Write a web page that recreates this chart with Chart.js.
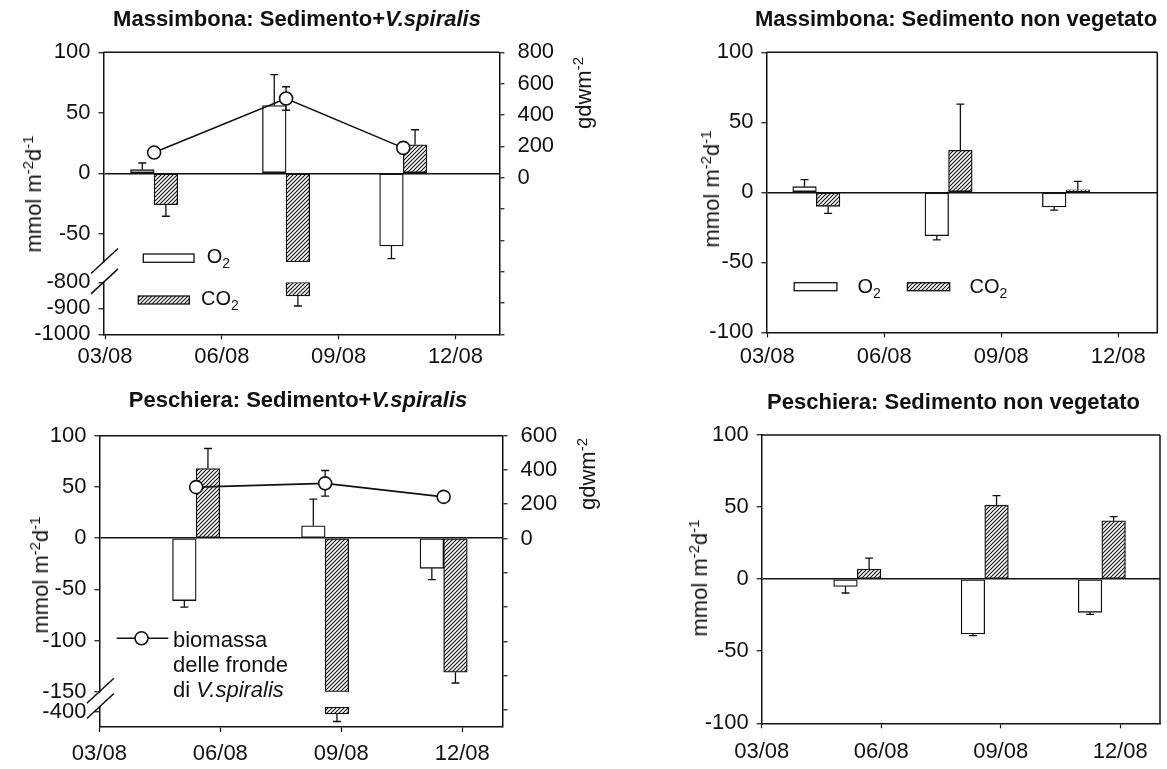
<!DOCTYPE html>
<html lang="it">
<head>
<meta charset="utf-8">
<title>Flussi di O2 e CO2 - Massimbona e Peschiera</title>
<script src="https://cdn.jsdelivr.net/npm/chart.js@4.4.1/dist/chart.umd.min.js"></script>
<style>
  html, body { margin: 0; padding: 0; background: #fff; }
  body { font-family: "Liberation Sans", Arial, "DejaVu Sans", sans-serif; color: #111; }
  #fig { position: relative; width: 1167px; height: 769px; overflow: hidden; }
  #fig canvas { position: absolute; }
  .t { position: absolute; white-space: nowrap; font-size: 22px; line-height: 22px; }
  .ttl { font-weight: bold; transform: translateX(-50%); }
  .vt { transform: translate(-50%, -50%) rotate(-90deg); }
  .lg { font-size: 20px; line-height: 20px; }
  .t sup { font-size: 15px; position: relative; top: -8px; vertical-align: baseline; line-height: 0; }
  .t sub { font-size: 14px; position: relative; top: 5px; vertical-align: baseline; line-height: 0; }
</style>
</head>
<body>
<div id="fig">
  <canvas id="c1" width="620" height="384" style="left:0;top:0"></canvas>
  <canvas id="c2" width="547" height="384" style="left:620px;top:0"></canvas>
  <canvas id="c3" width="620" height="385" style="left:0;top:384px"></canvas>
  <canvas id="c4" width="547" height="385" style="left:620px;top:384px"></canvas>

  <!-- titoli dei pannelli -->
  <div class="t ttl" style="left:297px;top:8.4px">Massimbona: Sedimento+<i>V.spiralis</i></div>
  <div class="t ttl" style="left:956px;top:8.4px">Massimbona: Sedimento non vegetato</div>
  <div class="t ttl" style="left:298px;top:389.4px">Peschiera: Sedimento+<i>V.spiralis</i></div>
  <div class="t ttl" style="left:953.5px;top:391.4px">Peschiera: Sedimento non vegetato</div>

  <!-- titoli degli assi -->
  <div class="t vt" style="left:34.4px;top:193.5px">mmol m<sup>-2</sup>d<sup>-1</sup></div>
  <div class="t vt" style="left:584.4px;top:93px">gdwm<sup>-2</sup></div>
  <div class="t vt" style="left:712.4px;top:189px">mmol m<sup>-2</sup>d<sup>-1</sup></div>
  <div class="t vt" style="left:41.4px;top:575px">mmol m<sup>-2</sup>d<sup>-1</sup></div>
  <div class="t vt" style="left:588.4px;top:474px">gdwm<sup>-2</sup></div>
  <div class="t vt" style="left:700.4px;top:577.5px">mmol m<sup>-2</sup>d<sup>-1</sup></div>

  <!-- testi delle legende -->
  <div class="t lg" style="left:206.7px;top:246.4px">O<sub>2</sub></div>
  <div class="t lg" style="left:201px;top:288.1px">CO<sub>2</sub></div>
  <div class="t lg" style="left:857.5px;top:276.4px">O<sub>2</sub></div>
  <div class="t lg" style="left:969.6px;top:276.4px">CO<sub>2</sub></div>
  <div class="t" style="left:173px;top:626.6px;line-height:25px">biomassa<br>delle fronde<br>di <i>V.spiralis</i></div>
</div>

<script>
// giorni di campionamento (agosto, con frazione del giorno)
const giorniM = [4.26, 7.65, 10.66];
const giorniP = [5.4, 8.6, 11.54];

// tick dell'asse x
const tickGiorni = [3, 6, 9, 12];
const tickDate = ['03/08', '06/08', '09/08', '12/08'];

// Massimbona: Sedimento + V.spiralis (mmol m-2 d-1)
const o2MVeg = [3, 56, -60];
const o2MVegErr = [5.5, 25.5, 10.5];
const co2MVeg = [-26, -852, 23.5];
const co2MVegErr = [9.5, 39, 12.5];
// biomassa delle fronde (gdw m-2)
const bioM = [160, 505, 190];
const bioMErr = [20, 75, 37];

// Massimbona: Sedimento non vegetato
const o2MNon = [4, -31, -10.5];
const o2MNonErr = [5, 3, 2.2];
const co2MNon = [-10, 30, 1.8];
const co2MNonErr = [5, 33, 6];

// Peschiera: Sedimento + V.spiralis
const o2PVeg = [-61, 12, -29.5];
const o2PVegErr = [6.5, 26, 11];
const co2PVeg = [68, -402, -131];
const co2PVegErr = [19.5, 7.5, 10.5];
const bioP = [300, 322, 243];
const bioPErr = [15, 75, 15];

// Peschiera: Sedimento non vegetato
const o2PNon = [-5, -38, -23];
const o2PNonErr = [4.6, 1.2, 1.4];
const co2PNon = [7, 51.3, 40.5];
const co2PNonErr = [7.6, 6.6, 2.9];

// tick degli assi y
const tickY = [100, 50, 0, -50, -100];
const tickMUp = [100, 50, 0, -50];
const tickMLow = [-800, -900, -1000];
const tickBioM = [800, 600, 400, 200, 0, -200, -400, -600, -800, -1000];
const tickPUp = [100, 50, 0, -50, -100, -150];
const tickPLow = [-400];
const tickBioP = [600, 400, 200, 0, -200, -400, -600, -800, -1000];

const INK = '#111';
const BAR_W = 23.6;

Chart.defaults.font.family = '"Liberation Sans", Arial, "DejaVu Sans", sans-serif';
Chart.defaults.font.size = 22;
Chart.defaults.color = INK;

// tratteggio diagonale per le barre CO2
function makeHatch() {
    const c = document.createElement('canvas');
    c.width = 4; c.height = 4;
    const g = c.getContext('2d');
    g.fillStyle = '#fff';
    g.fillRect(0, 0, 4, 4);
    g.strokeStyle = INK;
    g.lineWidth = 1.1;
    g.beginPath();
    g.moveTo(0, 4); g.lineTo(4, 0);
    g.moveTo(-1, 1); g.lineTo(1, -1);
    g.moveTo(3, 5); g.lineTo(5, 3);
    g.stroke();
    return g.createPattern(c, 'repeat');
}

// barre d'errore: per le barre solo verso l'esterno, per i punti in entrambe le direzioni
function drawErrors(chart, index) {
    const ds = chart.data.datasets[index];
    if (!ds.errors) return;
    const meta = chart.getDatasetMeta(index);
    const yScale = chart.scales[meta.yAxisID];
    const ctx = chart.ctx;
    ctx.save();
    ctx.strokeStyle = INK;
    ctx.lineWidth = 1.3;
    ds.data.forEach((d, i) => {
        const err = ds.errors[i];
        const el = meta.data[i];
        if (!err || d.y === null || !el) return;
        const v = Array.isArray(d.y) ? d.y[1] : d.y;
        const y0 = yScale.getPixelForValue(v);
        const ends = ds.type === 'line' ? [v + err, v - err] : [v + Math.sign(v) * err];
        ends.forEach(e => {
            const y1 = yScale.getPixelForValue(e);
            ctx.beginPath();
            ctx.moveTo(el.x, y0); ctx.lineTo(el.x, y1);
            ctx.moveTo(el.x - 4, y1); ctx.lineTo(el.x + 4, y1);
            ctx.stroke();
        });
    });
    ctx.restore();
}

const errorBars = {
    id: 'errorBars',
    afterDatasetDraw(chart, args) { if (args.meta.type === 'bar') drawErrors(chart, args.index); },
    beforeDatasetDraw(chart, args) { if (args.meta.type === 'line') drawErrors(chart, args.index); }
};

// segni di interruzione "//" sull'asse spezzato
const axisBreak = {
    id: 'axisBreak',
    afterDraw(chart) {
        const up = chart.scales.y, low = chart.scales.yb;
        if (!low) return;
        const x = up.right, ctx = chart.ctx;
        ctx.save();
        ctx.strokeStyle = INK;
        ctx.lineWidth = 1.5;
        [up.bottom, low.top].forEach(y => {
            ctx.beginPath();
            ctx.moveTo(x - 12.5, y + 11.5);
            ctx.lineTo(x + 14.5, y - 13.5);
            ctx.stroke();
        });
        ctx.restore();
    }
};

function framePlugin(withRight) {
    return {
        id: 'frame',
        afterDraw(chart) {
            const { left, right, top, bottom } = chart.chartArea;
            const ctx = chart.ctx;
            ctx.save();
            ctx.strokeStyle = INK;
            ctx.lineWidth = 1.5;
            ctx.beginPath();
            ctx.moveTo(left, top); ctx.lineTo(right, top);
            if (withRight) { ctx.moveTo(right, top); ctx.lineTo(right, bottom); }
            ctx.stroke();
            ctx.restore();
        }
    };
}

// simboli di legenda (posizioni relative all'area del grafico)
function legendPlugin(items, hatch) {
    return {
        id: 'legendSymbols',
        afterDraw(chart) {
            const { left, top } = chart.chartArea;
            const ctx = chart.ctx;
            ctx.save();
            ctx.strokeStyle = INK;
            items.forEach(it => {
                if (it.kind === 'box') {
                    ctx.fillStyle = it.fill === 'hatch' ? hatch : '#fff';
                    ctx.lineWidth = 1.3;
                    ctx.fillRect(left + it.x, top + it.y, it.w, it.h);
                    ctx.strokeRect(left + it.x, top + it.y, it.w, it.h);
                } else {
                    ctx.lineWidth = 1.6;
                    ctx.beginPath();
                    ctx.moveTo(left + it.x1, top + it.y);
                    ctx.lineTo(left + it.x2, top + it.y);
                    ctx.stroke();
                    ctx.beginPath();
                    ctx.arc(left + it.cx, top + it.y, 6.5, 0, Math.PI * 2);
                    ctx.fillStyle = '#fff';
                    ctx.fill();
                    ctx.stroke();
                }
            });
            ctx.restore();
        }
    };
}

function yAxisCfg(o) {
    return {
        type: 'linear',
        position: o.position || 'left',
        min: o.min, max: o.max,
        stack: o.stack, stackWeight: o.stackWeight, weight: o.weight || 0,
        grid: {
            drawOnChartArea: !!o.zero, drawTicks: true, tickLength: 5, tickWidth: 1.2, tickColor: INK, lineWidth: 1.5,
            color: c => (o.zero && c.tick && c.tick.value === 0) ? INK : 'transparent'
        },
        border: { display: true, color: INK, width: 1.5 },
        ticks: {
            autoSkip: false, padding: o.pad,
            callback: v => (o.labelIf && !o.labelIf(v)) ? '' : String(v)
        },
        afterBuildTicks: s => { s.ticks = o.ticks.map(v => ({ value: v })); },
        afterFit: s => { s.width = o.width; }
    };
}

function buildPanel(p, hatch) {
    const broken = !!p.yLow;
    const cut = p.yUp.min;
    const datasets = [];
    if (p.bio) {
        datasets.push({
            type: 'line', label: 'biomassa delle fronde', yAxisID: 'y2', order: 0,
            data: p.days.map((d, i) => ({ x: d, y: p.bio[i] })), errors: p.bioErr,
            borderColor: INK, borderWidth: 1.6, tension: 0, fill: false,
            pointRadius: 6.5, pointHoverRadius: 6.5, pointBackgroundColor: '#fff',
            pointBorderColor: INK, pointBorderWidth: 1.6
        });
    }
    const barStyle = { type: 'bar', order: 1, borderColor: INK, borderWidth: 1.3, borderSkipped: false, barThickness: BAR_W, grouped: true };
    datasets.push({
        ...barStyle, label: 'O₂', stack: 'o2', yAxisID: 'y', backgroundColor: '#fff',
        data: p.days.map((d, i) => ({ x: d, y: p.o2[i] })), errors: p.o2Err
    });
    // parte superiore delle barre CO2 (tagliata al limite dell'asse spezzato)
    datasets.push({
        ...barStyle, label: 'CO₂', stack: 'co2', yAxisID: 'y', backgroundColor: hatch,
        data: p.days.map((d, i) => ({ x: d, y: Math.max(p.co2[i], cut) })),
        errors: p.co2Err.map((e, i) => p.co2[i] < cut ? null : e)
    });
    if (broken) {
        // parte inferiore, sotto l'interruzione
        datasets.push({
            ...barStyle, label: 'CO₂', stack: 'co2', yAxisID: 'yb', backgroundColor: hatch,
            data: p.days.map((d, i) => ({ x: d, y: p.co2[i] < cut ? [p.yLow.max, p.co2[i]] : null })),
            errors: p.co2Err.map((e, i) => p.co2[i] < cut ? e : null)
        });
    }

    const scales = {
        x: {
            type: 'linear', position: 'bottom', min: p.xMin, max: p.xMax, offset: false,
            grid: { display: true, drawOnChartArea: false, color: 'transparent', tickColor: INK, tickLength: 5, tickWidth: 1.2, offset: false },
            border: { color: INK, width: 1.5 },
            ticks: { padding: p.xPad, maxRotation: 0, autoSkip: false, callback: v => tickDate[tickGiorni.indexOf(v)] || '' },
            afterBuildTicks: s => { s.ticks = tickGiorni.map(v => ({ value: v })); },
            afterFit: s => { s.height = p.xH; }
        },
        y: yAxisCfg({ min: p.yUp.min, max: p.yUp.max, ticks: p.yUp.ticks, width: p.leftW, zero: true, pad: 8,
            stack: broken ? 'left' : undefined, stackWeight: p.yUp.h, weight: 3 })
    };
    if (broken) {
        scales.ygap = {
            type: 'linear', position: 'left', stack: 'left', stackWeight: p.gapH, weight: 2, min: 0, max: 1,
            grid: { display: false }, border: { display: false }, ticks: { display: false },
            afterFit: s => { s.width = p.leftW; }
        };
        scales.yb = yAxisCfg({ min: p.yLow.min, max: p.yLow.max, ticks: p.yLow.ticks, width: p.leftW, pad: 8,
            stack: 'left', stackWeight: p.yLow.h, weight: 1 });
    }
    if (p.y2) {
        scales.y2 = yAxisCfg({ min: p.y2.min, max: p.y2.max, ticks: p.y2.ticks, width: p.y2.w, pad: 13,
            position: 'right', labelIf: v => v >= 0 });
    }

    const plugins = [errorBars, axisBreak, framePlugin(!p.y2)];
    if (p.legend) plugins.push(legendPlugin(p.legend, hatch));

    return new Chart(document.getElementById(p.id), {
        type: 'bar',
        data: { datasets },
        options: {
            responsive: false,
            animation: false,
            events: [],
            layout: { padding: { top: p.top, right: p.padR, left: 0, bottom: 0 } },
            plugins: { legend: { display: false }, tooltip: { enabled: false }, title: { display: false } },
            scales
        },
        plugins
    });
}

document.addEventListener('DOMContentLoaded', function () {
    const hatch = makeHatch();

    const panels = [
        {
            id: 'c1', days: giorniM, o2: o2MVeg, o2Err: o2MVegErr, co2: co2MVeg, co2Err: co2MVegErr, bio: bioM, bioErr: bioMErr,
            xMin: 2.96, xMax: 13.13, xH: 49.7, xPad: 4, top: 52.3, padR: 0, leftW: 103.5,
            yUp: { min: -73.3, max: 100, ticks: tickMUp, h: 209.7 }, gapH: 20.4,
            yLow: { min: -1000, max: -800, ticks: tickMLow, h: 51.9 },
            y2: { min: -1000, max: 800, ticks: tickBioM, w: 120.6 },
            legend: [
                { kind: 'box', fill: 'white', x: 39.8, y: 201.7, w: 50.7, h: 8.3 },
                { kind: 'box', fill: 'hatch', x: 34.8, y: 243.7, w: 51, h: 8 }
            ]
        },
        {
            id: 'c2', days: giorniM, o2: o2MNon, o2Err: o2MNonErr, co2: co2MNon, co2Err: co2MNonErr,
            xMin: 2.98, xMax: 13, xH: 51.7, xPad: 6, top: 52.3, padR: 9.7, leftW: 146.4,
            yUp: { min: -100, max: 100, ticks: tickY },
            legend: [
                { kind: 'box', fill: 'white', x: 27.8, y: 230.4, w: 42.7, h: 8 },
                { kind: 'box', fill: 'hatch', x: 141, y: 230.4, w: 42.3, h: 8 }
            ]
        },
        {
            id: 'c3', days: giorniP, o2: o2PVeg, o2Err: o2PVegErr, co2: co2PVeg, co2Err: co2PVegErr, bio: bioP, bioErr: bioPErr,
            xMin: 3, xMax: 13, xH: 42, xPad: 8.5, top: 51.7, padR: 0, leftW: 99.4,
            yUp: { min: -150, max: 100, ticks: tickPUp, h: 256 }, gapH: 15.3,
            yLow: { min: -415, max: -395, ticks: tickPLow, h: 20 },
            y2: { min: -1100, max: 600, ticks: tickBioP, w: 117.5 },
            legend: [
                { kind: 'line', x1: 17.3, x2: 68.9, y: 202.6, cx: 42.1 }
            ]
        },
        {
            id: 'c4', days: giorniP, o2: o2PNon, o2Err: o2PNonErr, co2: co2PNon, co2Err: co2PNonErr,
            xMin: 3, xMax: 13, xH: 45.7, xPad: 10.5, top: 51, padR: 7, leftW: 141.7,
            yUp: { min: -100, max: 100, ticks: tickY }
        }
    ];

    panels.forEach(p => buildPanel(p, hatch));
});
</script>
</body>
</html>
